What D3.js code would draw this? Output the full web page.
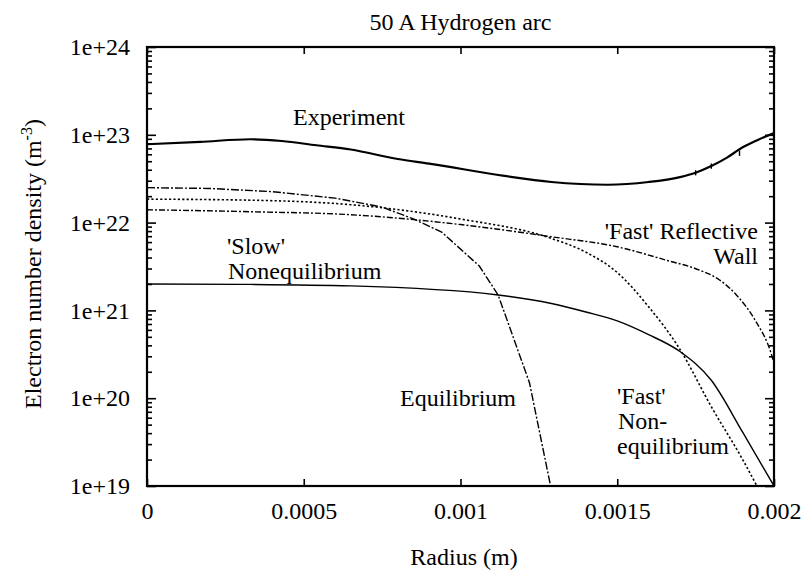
<!DOCTYPE html>
<html>
<head>
<meta charset="utf-8">
<script src="https://cdn.jsdelivr.net/npm/d3@7"></script>
<style>
  body { margin: 0; background: #fff; }
  svg text { font-family: "Liberation Serif", "DejaVu Serif", "Times New Roman", Times, serif; fill: #000; }
</style>
</head>
<body>
<div id="chart"></div>
<script>
// Values (radius in m, density in m^-3)
var experimentR = [0, 0.00017, 0.00033, 0.00043, 0.00054, 0.00065, 0.0008, 0.0009, 0.00114, 0.00129, 0.00147, 0.0016, 0.0017, 0.00175, 0.0018, 0.00185, 0.0019, 0.00195, 0.002];
var experimentN = [7.8e22, 8.3e22, 8.9e22, 8.5e22, 7.6e22, 6.8e22, 5.3e22, 4.7e22, 3.4e22, 2.9e22, 2.7e22, 2.9e22, 3.3e22, 3.7e22, 4.4e22, 5.5e22, 7.2e22, 8.8e22, 1.05e23];

// small error bars on the measured profile near the wall
var errorR = [0.00175, 0.0018, 0.00189];
var errorLow = [3.45e22, 4.1e22, 5.75e22];
var errorHigh = [3.95e22, 4.7e22, 6.6e22];

var slowR = [0, 0.0003, 0.00065, 0.00112, 0.00129, 0.0014, 0.0015, 0.0016, 0.0017, 0.0018, 0.0019, 0.002];
var slowN = [2.0e21, 1.98e21, 1.9e21, 1.5e21, 1.2e21, 9.6e20, 7.6e20, 5.3e20, 3.4e20, 1.6e20, 4.1e19, 1.0e19];

var equilR = [0, 0.0002, 0.0004, 0.0006, 0.00075, 0.00085, 0.00094, 0.00106, 0.00112, 0.00122, 0.00129];
var equilN = [2.5e22, 2.45e22, 2.25e22, 1.9e22, 1.5e22, 1.1e22, 7.8e21, 3.2e21, 1.5e21, 1.5e20, 9e18];

var fastR = [0, 0.00033, 0.00065, 0.001, 0.00129, 0.0014, 0.0015, 0.0016, 0.0017, 0.0018, 0.0019, 0.00196];
var fastN = [1.85e22, 1.8e22, 1.6e22, 1.1e22, 6.6e21, 4.6e21, 2.7e21, 1.1e21, 3.6e20, 8e19, 2e19, 8e18];

var wallR = [0, 0.00033, 0.00065, 0.001, 0.00129, 0.0015, 0.00166, 0.00176, 0.00182, 0.00188, 0.00194, 0.00199, 0.002];
var wallN = [1.4e22, 1.33e22, 1.23e22, 9.5e21, 6.9e21, 5.3e21, 3.7e21, 2.9e21, 2.3e21, 1.5e21, 7.7e20, 3.3e20, 2.5e20];

var xTicks = [0, 0.0005, 0.001, 0.0015, 0.002];
var xTickLabels = ["0", "0.0005", "0.001", "0.0015", "0.002"];
var yTicks = [1e19, 1e20, 1e21, 1e22, 1e23, 1e24];
var yTickLabels = ["1e+19", "1e+20", "1e+21", "1e+22", "1e+23", "1e+24"];

var serif = "'Liberation Serif', 'DejaVu Serif', 'Times New Roman', Times, serif";

// Layout
var margin = { top: 47, right: 35, bottom: 85, left: 147 };
var width = 809 - margin.left - margin.right;
var height = 571 - margin.top - margin.bottom;

var root = d3.select("#chart").append("svg")
    .attr("width", 809)
    .attr("height", 571)
    .attr("font-family", serif);

var svg = root.append("g")
    .attr("transform", "translate(" + margin.left + "," + margin.top + ")");

var x = d3.scaleLinear().domain([0, 0.002]).range([0, width]);
var y = d3.scaleLog().domain([1e19, 1e24]).range([height, 0]);

svg.append("clipPath").attr("id", "plotclip")
    .append("rect").attr("width", width).attr("height", height);

// Minor log ticks 2..9 in each decade
var minorTicks = [];
for (var e = 19; e < 24; e++) {
    for (var m = 2; m <= 9; m++) minorTicks.push(m * Math.pow(10, e));
}

// Inward ticks on all four sides
var axisLeft = d3.axisLeft(y).tickValues(yTicks).tickSizeInner(-9).tickSizeOuter(0)
    .tickFormat(function (d, i) { return yTickLabels[i]; }).tickPadding(17);
var axisRight = d3.axisRight(y).tickValues(yTicks).tickSizeInner(-9).tickSizeOuter(0).tickFormat("");
var minorLeft = d3.axisLeft(y).tickValues(minorTicks).tickSizeInner(-5).tickSizeOuter(0).tickFormat("");
var minorRight = d3.axisRight(y).tickValues(minorTicks).tickSizeInner(-5).tickSizeOuter(0).tickFormat("");
var axisBottom = d3.axisBottom(x).tickValues(xTicks).tickSizeInner(-7).tickSizeOuter(0)
    .tickFormat(function (d, i) { return xTickLabels[i]; }).tickPadding(16);
var axisTop = d3.axisTop(x).tickValues(xTicks).tickSizeInner(-7).tickSizeOuter(0).tickFormat("");

function styleAxis(g) {
    g.attr("font-family", serif).attr("font-size", 24);
    g.select(".domain").remove();
    g.selectAll(".tick line").attr("stroke", "#000").attr("stroke-width", 1.6);
    g.selectAll(".tick text").attr("fill", "#000");
}

svg.append("g").call(minorLeft).call(styleAxis);
svg.append("g").attr("transform", "translate(" + width + ",0)").call(minorRight).call(styleAxis);
svg.append("g").call(axisLeft).call(styleAxis);
svg.append("g").attr("transform", "translate(" + width + ",0)").call(axisRight).call(styleAxis);
svg.append("g").attr("transform", "translate(0," + height + ")").call(axisBottom).call(styleAxis);
svg.append("g").call(axisTop).call(styleAxis);

// Plot frame
svg.append("rect")
    .attr("width", width).attr("height", height)
    .attr("fill", "none").attr("stroke", "#000").attr("stroke-width", 2.2);

// Curves
var series = [
    { r: experimentR, n: experimentN, width: 2.2, dash: null, curve: d3.curveMonotoneX },
    { r: slowR, n: slowN, width: 1.4, dash: null, curve: d3.curveMonotoneX },
    { r: equilR, n: equilN, width: 1.4, dash: "8,2,2,2", curve: d3.curveLinear },
    { r: fastR, n: fastN, width: 1.6, dash: "2.2,2.2", curve: d3.curveMonotoneX },
    { r: wallR, n: wallN, width: 1.4, dash: "6,2,2,2", curve: d3.curveMonotoneX }
];

var plot = svg.append("g").attr("clip-path", "url(#plotclip)");

plot.selectAll("path.curve")
    .data(series)
    .enter().append("path")
    .attr("class", "curve")
    .attr("d", function (s) {
        return d3.line()
            .x(function (d) { return x(d[0]); })
            .y(function (d) { return y(d[1]); })
            .curve(s.curve)(d3.zip(s.r, s.n));
    })
    .attr("fill", "none")
    .attr("stroke", "#000")
    .attr("stroke-width", function (s) { return s.width; })
    .attr("stroke-dasharray", function (s) { return s.dash; });

// error bars on the experiment
plot.selectAll("line.err")
    .data(d3.zip(errorR, errorLow, errorHigh))
    .enter().append("line")
    .attr("class", "err")
    .attr("x1", function (d) { return x(d[0]); })
    .attr("x2", function (d) { return x(d[0]); })
    .attr("y1", function (d) { return y(d[1]); })
    .attr("y2", function (d) { return y(d[2]); })
    .attr("stroke", "#000")
    .attr("stroke-width", 1.4);

// Curve labels (page coordinates)
var labels = [
    { t: "Experiment", x: 293, y: 125, a: "start" },
    { t: "'Slow'", x: 227, y: 254, a: "start" },
    { t: "Nonequilibrium", x: 228, y: 279, a: "start" },
    { t: "Equilibrium", x: 400, y: 406, a: "start" },
    { t: "'Fast' Reflective", x: 758, y: 239, a: "end" },
    { t: "Wall", x: 758, y: 264, a: "end" },
    { t: "'Fast'", x: 617, y: 404, a: "start" },
    { t: "Non-", x: 618, y: 429, a: "start" },
    { t: "equilibrium", x: 617, y: 454, a: "start" }
];

root.selectAll("text.lbl")
    .data(labels)
    .enter().append("text")
    .attr("class", "lbl")
    .attr("x", function (d) { return d.x; })
    .attr("y", function (d) { return d.y; })
    .attr("text-anchor", function (d) { return d.a; })
    .attr("font-size", 24)
    .text(function (d) { return d.t; });

// Title and axis labels
root.append("text")
    .attr("x", margin.left + width / 2).attr("y", 30)
    .attr("text-anchor", "middle").attr("font-size", 24)
    .text("50 A Hydrogen arc");

root.append("text")
    .attr("x", 464).attr("y", 565)
    .attr("text-anchor", "middle").attr("font-size", 24)
    .text("Radius (m)");

var yl = root.append("text")
    .attr("transform", "translate(41,264) rotate(-90)")
    .attr("text-anchor", "middle").attr("font-size", 24);
yl.append("tspan").text("Electron number density (m");
yl.append("tspan").attr("dy", -9).attr("font-size", 16).text("-3");
yl.append("tspan").attr("dy", 9).text(")");
</script>
</body>
</html>
